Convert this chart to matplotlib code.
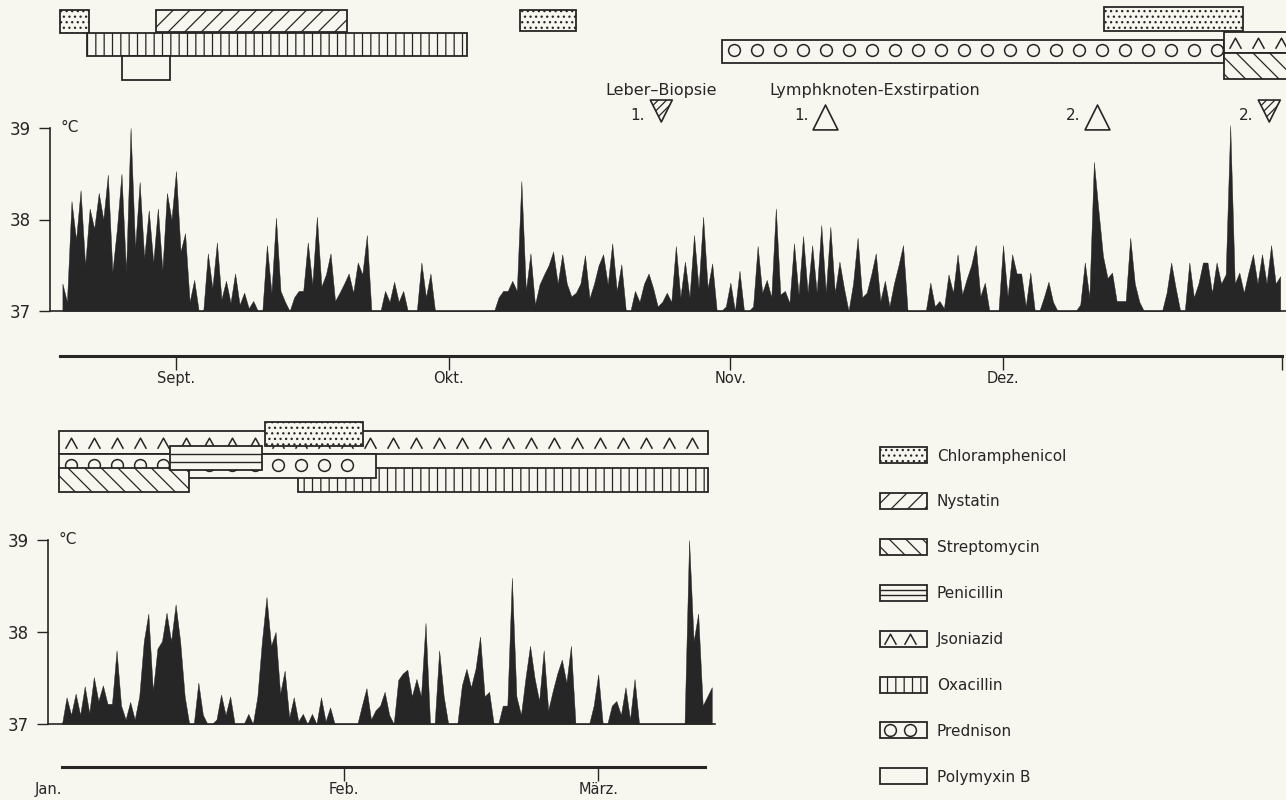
import numpy as np
import matplotlib.pyplot as plt
from matplotlib.path import Path

plt.rcParams['font.family'] = ['DejaVu Sans']
plt.rcParams['hatch.linewidth'] = 0.9

W, H = 1286, 800
PAPER = '#f7f6ef'
INK = '#262626'

# body temperature, two readings a day (deg C)
# upper panel starts 12.5 days before 1 Sept, lower panel starts 1 Jan
temp_top = [
    37.3, 37.1, 38.2, 37.78, 38.32, 37.5, 38.12, 37.9, 38.29, 38.0,
    38.49, 37.43, 37.9, 38.5, 37.43, 39.0, 37.69, 38.41, 37.58, 38.1,
    37.53, 38.12, 37.45, 38.29, 38.0, 38.53, 37.65, 37.85, 37.1, 37.34,
    37.0, 37.0, 37.63, 37.25, 37.75, 37.13, 37.33, 37.09, 37.41, 37.07,
    37.2, 37.03, 37.11, 37.0, 37.0, 37.72, 37.2, 38.02, 37.22, 37.1,
    37.0, 37.15, 37.22, 37.22, 37.75, 37.29, 38.03, 37.27, 37.4, 37.63,
    37.11, 37.2, 37.3, 37.41, 37.2, 37.53, 37.4, 37.83, 37.0, 37.0,
    37.0, 37.22, 37.1, 37.32, 37.1, 37.22, 37.0, 37.0, 37.0, 37.53,
    37.15, 37.41, 37.0, 37.0, 37.0, 37.0, 37.0, 37.0, 37.0, 37.0,
    37.0, 37.0, 37.0, 37.0, 37.0, 37.0, 37.15, 37.22, 37.22, 37.33,
    37.22, 38.42, 37.22, 37.63, 37.07, 37.29, 37.4, 37.5, 37.65, 37.3,
    37.62, 37.3, 37.16, 37.2, 37.3, 37.61, 37.14, 37.3, 37.5, 37.62,
    37.29, 37.74, 37.22, 37.51, 37.0, 37.0, 37.22, 37.1, 37.3, 37.41,
    37.25, 37.05, 37.1, 37.2, 37.1, 37.71, 37.15, 37.54, 37.15, 37.83,
    37.25, 38.03, 37.25, 37.52, 37.0, 37.0, 37.05, 37.31, 37.0, 37.44,
    37.0, 37.0, 37.05, 37.71, 37.2, 37.34, 37.15, 38.12, 37.18, 37.22,
    37.09, 37.74, 37.18, 37.82, 37.2, 37.72, 37.2, 37.94, 37.2, 37.92,
    37.2, 37.54, 37.25, 37.0, 37.3, 37.8, 37.15, 37.2, 37.4, 37.63,
    37.11, 37.33, 37.05, 37.3, 37.5, 37.72, 37.0, 37.0, 37.0, 37.0,
    37.0, 37.31, 37.05, 37.11, 37.03, 37.4, 37.2, 37.62, 37.18, 37.35,
    37.5, 37.72, 37.16, 37.31, 37.0, 37.0, 37.0, 37.72, 37.16, 37.62,
    37.41, 37.41, 37.05, 37.42, 37.0, 37.0, 37.15, 37.32, 37.1, 37.0,
    37.0, 37.0, 37.0, 37.0, 37.07, 37.53, 37.15, 38.63, 38.1, 37.6,
    37.36, 37.42, 37.11, 37.11, 37.11, 37.8, 37.3, 37.1, 37.0, 37.0,
    37.0, 37.0, 37.0, 37.2, 37.53, 37.25, 37.0, 37.0, 37.53, 37.15,
    37.3, 37.53, 37.53, 37.2, 37.53, 37.3, 37.4, 39.03, 37.3, 37.42,
    37.2, 37.42, 37.62, 37.3, 37.62, 37.3, 37.72, 37.3, 37.38,
]
temp_bottom = [
    37.0, 37.29, 37.1, 37.33, 37.1, 37.41, 37.12, 37.51, 37.25, 37.42,
    37.22, 37.22, 37.8, 37.2, 37.05, 37.24, 37.05, 37.3, 37.9, 38.2,
    37.36, 37.82, 37.9, 38.21, 37.9, 38.3, 37.9, 37.3, 37.0, 37.0,
    37.45, 37.1, 37.0, 37.0, 37.05, 37.32, 37.1, 37.3, 37.0, 37.0,
    37.0, 37.11, 37.0, 37.3, 37.9, 38.38, 37.85, 38.0, 37.33, 37.58,
    37.07, 37.29, 37.03, 37.11, 37.0, 37.11, 37.0, 37.29, 37.03, 37.18,
    37.0, 37.0, 37.0, 37.0, 37.0, 37.0, 37.2, 37.39, 37.05, 37.15,
    37.2, 37.35, 37.1, 37.0, 37.48, 37.55, 37.59, 37.3, 37.49, 37.3,
    38.1, 37.0, 37.0, 37.8, 37.3, 37.0, 37.0, 37.0, 37.42, 37.6,
    37.4, 37.6, 37.95, 37.3, 37.35, 37.0, 37.0, 37.2, 37.2, 38.59,
    37.3, 37.1, 37.5, 37.85, 37.5, 37.25, 37.8, 37.15, 37.36, 37.55,
    37.7, 37.45, 37.85, 37.0, 37.0, 37.0, 37.0, 37.2, 37.54, 37.0,
    37.0, 37.2, 37.25, 37.1, 37.4, 37.05, 37.49, 37.0, 37.0, 37.0,
    37.0, 37.0, 37.0, 37.0, 37.0, 37.0, 37.0, 37.0, 39.0, 37.9,
    38.2, 37.2, 37.3, 37.4,
]
top_first_day = -12.5

# months (day numbers counted from 1 Sept / 1 Jan)
top_months = ['Sept.', 'Okt.', 'Nov.', 'Dez.']
top_month_days = [0, 30, 61, 91]
bottom_months = ['Jan.', 'Feb.', 'März.']
bottom_month_days = [0, 31, 59]

# therapy periods
top_drug = ['Chloramphenicol', 'Nystatin', 'Oxacillin', 'Polymyxin B', 'Chloramphenicol',
            'Prednison', 'Chloramphenicol', 'Jsoniazid', 'Streptomycin']
top_start = [-12.8, -2.2, -9.8, -5.9, 37.9, 60.1, 102.1, 115.3, 115.3]
top_end = [-9.6, 18.8, 32.0, -0.7, 44.0, 115.3, 117.4, 123.0, 123.0]

bottom_drug = ['Oxacillin', 'Jsoniazid', 'Prednison', 'Streptomycin', 'Penicillin', 'Chloramphenicol']
bottom_start = [26.0, -0.3, -0.3, -0.3, 11.9, 22.3]
bottom_end = [71.1, 71.1, 34.5, 14.0, 22.0, 33.1]

# interventions
event_label = ['Leber–Biopsie', 'Lymphknoten-Exstirpation', 'Lymphknoten-Exstirpation', 'Leber–Biopsie']
event_day = [53.4, 71.4, 101.3, 120.3]
event_no = ['1.', '1.', '2.', '2.']

legend_drugs = ['Chloramphenicol', 'Nystatin', 'Streptomycin', 'Penicillin',
                'Jsoniazid', 'Oxacillin', 'Prednison', 'Polymyxin B']

# ---- layout (pixels) ----
PX_DAY = 9.088
TOP_X0, TOP_X1, SEPT_PX = 50, 1286, 176
BOT_X0, BOT_X1, JAN_PX = 48, 715, 62
top_xlim = ((TOP_X0 - SEPT_PX) / PX_DAY, (TOP_X1 - SEPT_PX) / PX_DAY)
bot_xlim = ((BOT_X0 - JAN_PX) / PX_DAY, (BOT_X1 - JAN_PX) / PX_DAY)
top_rows = [(10, 33), (10, 32), (33, 56), (56, 80), (10, 31), (40, 63), (7, 31), (32, 53), (53, 79)]
bottom_rows = [(468, 492), (431, 454), (454, 478), (468, 492), (446, 470), (422, 446)]

WEDGE = Path([(-1, -0.9), (0, 0.9), (1, -0.9)], [Path.MOVETO, Path.LINETO, Path.LINETO])
HATCH = {'Chloramphenicol': '...', 'Nystatin': '//', 'Streptomycin': '\\\\', 'Oxacillin': '||'}

fig = plt.figure(figsize=(W / 100, H / 100), dpi=100, facecolor=PAPER)


def px_axes(x0, y0, x1, y1):
    ax = fig.add_axes([x0 / W, 1 - y1 / H, (x1 - x0) / W, (y1 - y0) / H])
    ax.patch.set_visible(False)
    return ax


def strip_axes(x0, y0, x1, y1, xlim):
    ax = px_axes(x0, y0, x1, y1)
    ax.set_xlim(xlim)
    ax.set_ylim(y1, y0)
    ax.axis('off')
    return ax


def therapy_bar(ax, drug, x0, x1, top, bottom, step, z):
    h = bottom - top
    ax.barh(top + h / 2, x1 - x0, left=x0, height=h, color=PAPER, edgecolor=INK,
            linewidth=1.3, hatch=HATCH.get(drug), zorder=z)
    if drug == 'Penicillin':
        ax.hlines([top + h / 3, top + 2 * h / 3], x0, x1, color=INK, lw=1.0, zorder=z)
    elif drug in ('Prednison', 'Jsoniazid'):
        xs = np.arange(x0 + 0.5 * step, x1 - 0.3 * step, step)
        if drug == 'Prednison':
            ax.plot(xs, np.full(len(xs), top + 0.45 * h), ls='none', marker='o', ms=8.5,
                    mfc='none', mec=INK, mew=1.1, zorder=z)
        else:
            ax.plot(xs, np.full(len(xs), top + 0.5 * h), ls='none', marker=WEDGE, ms=8.5,
                    mfc='none', mec=INK, mew=1.1, zorder=z)


def temp_axes(x0, y0, x1, y1, xlim, days, temps):
    ax = px_axes(x0, y0, x1, y1)
    ax.set_xlim(xlim)
    ax.set_ylim(37, 39)
    ax.fill_between(days, 37, temps, color=INK, lw=0.3, clip_on=False)
    ax.spines[['top', 'right']].set_visible(False)
    ax.spines['left'].set_bounds(37, 39)
    for s in ax.spines.values():
        s.set_color(INK)
        s.set_linewidth(1.2)
    ax.set_xticks([])
    ax.set_yticks([37, 38, 39])
    ax.tick_params(axis='y', length=8, width=1, pad=6, labelsize=12, colors=INK)
    ax.annotate('°C', xy=(0, 1), xycoords='axes fraction', xytext=(10, 0),
                textcoords='offset pixels', ha='left', va='center', fontsize=11, color=INK)
    return ax


def timeline(x0, x1, y, xlim, bounds, ticks, labels):
    ax = px_axes(x0, y - 20, x1, y)
    ax.set_xlim(xlim)
    ax.spines[['top', 'left', 'right']].set_visible(False)
    ax.spines['bottom'].set_bounds(*bounds)
    ax.spines['bottom'].set_linewidth(2.2)
    ax.spines['bottom'].set_color(INK)
    ax.set_yticks([])
    ax.set_xticks(ticks, labels)
    ax.tick_params(axis='x', length=10, width=1, pad=1, labelsize=10.5, colors=INK)
    return ax


# ---- upper panel ----
temp_axes(TOP_X0, 128, TOP_X1, 311, top_xlim,
          top_first_day + 0.5 * np.arange(len(temp_top)), temp_top)
timeline(TOP_X0, TOP_X1, 356, top_xlim, (top_xlim[0] + 1.1, 121.7),
         top_month_days + [121.7], top_months + [''])

ax_s = strip_axes(TOP_X0, 0, TOP_X1, 130, top_xlim)
for k, (drug, a, b) in enumerate(zip(top_drug, top_start, top_end)):
    therapy_bar(ax_s, drug, a, b, *top_rows[k], step=23 / PX_DAY, z=2 + k)

for lab, d, no in zip(event_label, event_day, event_no):
    biopsy = lab.startswith('Leber')
    y = 111 if biopsy else 117
    ax_s.scatter([d], [y], s=250 if biopsy else 320, marker='v' if biopsy else '^',
                 facecolor=PAPER, edgecolor=INK, linewidths=1.2,
                 hatch='////' if biopsy else None, zorder=5)
    ax_s.annotate(no, (d, 115), xytext=(-16, 0), textcoords='offset pixels',
                  ha='right', va='center', fontsize=11, color=INK)
    if no == '1.':
        ax_s.annotate(lab, (d, 90), xytext=(-56, 0), textcoords='offset pixels',
                      ha='left', va='center', fontsize=11.5, color=INK)

# ---- lower panel ----
temp_axes(BOT_X0, 540, BOT_X1, 724, bot_xlim, 0.5 * np.arange(len(temp_bottom)), temp_bottom)
ax_bt = timeline(BOT_X0, BOT_X1, 767, bot_xlim, (0, 70.8), bottom_month_days, bottom_months)
ax_bt.xaxis.get_major_ticks()[0].tick1line.set_visible(False)
ax_bt.get_xticklabels()[0].set_horizontalalignment('right')

ax_b = strip_axes(BOT_X0, 415, BOT_X1, 500, bot_xlim)
for k, (drug, a, b) in enumerate(zip(bottom_drug, bottom_start, bottom_end)):
    therapy_bar(ax_b, drug, a, b, *bottom_rows[k], step=23 / PX_DAY, z=2 + k)

# ---- legend ----
ax_l = strip_axes(870, 430, 1140, 800, (870, 1140))
for k, drug in enumerate(legend_drugs):
    top = 447 + 45.9 * k
    therapy_bar(ax_l, drug, 880, 927, top, top + 16, step=20, z=2)
    ax_l.text(937, top + 9, drug, ha='left', va='center', fontsize=11, color=INK)

fig.savefig('out.png', dpi=100, facecolor=PAPER)
